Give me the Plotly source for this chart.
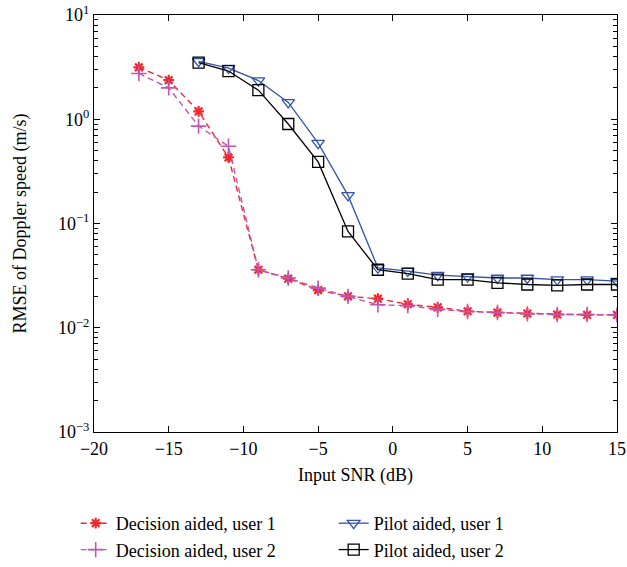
import plotly.graph_objects as go

# Input SNR (dB)
snr_decision = [-17, -15, -13, -11, -9, -7, -5, -3, -1, 1, 3, 5, 7, 9, 11, 13, 15]
snr_pilot = [-13, -11, -9, -7, -5, -3, -1, 1, 3, 5, 7, 9, 11, 13, 15]

# RMSE of Doppler speed (m/s)
decision_user1 = [3.15, 2.37, 1.19, 0.43, 0.036, 0.0296, 0.023, 0.020, 0.019,
                  0.0168, 0.0157, 0.0144, 0.014, 0.0137, 0.0134, 0.0133, 0.0133]
decision_user2 = [2.75, 2.0, 0.86, 0.55, 0.036, 0.030, 0.024, 0.020, 0.0166,
                  0.0163, 0.015, 0.0143, 0.014, 0.0136, 0.0134, 0.0134, 0.0133]
pilot_user1 = [3.6, 3.1, 2.35, 1.45, 0.59, 0.186, 0.0376, 0.035, 0.032, 0.031,
               0.030, 0.030, 0.029, 0.029, 0.028]
pilot_user2 = [3.5, 2.9, 1.9, 0.9, 0.39, 0.084, 0.036, 0.033, 0.029, 0.029,
               0.027, 0.026, 0.0255, 0.026, 0.026]

x_ticks = [-20, -15, -10, -5, 0, 5, 10, 15]
x_tick_text = ["\u221220", "\u221215", "\u221210", "\u22125", "0", "5", "10", "15"]
y_ticks = [10, 1, 0.1, 0.01, 0.001]
y_tick_text = ["10<sup>1</sup>", "10<sup>0</sup>", "10<sup>\u22121</sup>",
               "10<sup>\u22122</sup>", "10<sup>\u22123</sup>"]

RED = "#ee2a2f"
MAGENTA = "#c055b5"
BLUE = "#3553a8"
BLACK = "#000000"
FONT = "Liberation Serif"
FS = 18

fig = go.Figure()

fig.add_trace(go.Scatter(
    x=snr_decision, y=decision_user1, name="Decision aided, user 1",
    mode="lines+markers",
    line=dict(color=RED, width=1.4, dash="6px,4px"),
    marker=dict(symbol="asterisk-open", size=9, line=dict(color=RED, width=2.2)),
))
fig.add_trace(go.Scatter(
    x=snr_pilot, y=pilot_user1, name="Pilot aided, user 1",
    mode="lines+markers",
    line=dict(color=BLUE, width=1.3),
    marker=dict(symbol="triangle-down-open", size=11, color=BLUE,
                line=dict(color=BLUE, width=1.3)),
))
fig.add_trace(go.Scatter(
    x=snr_decision, y=decision_user2, name="Decision aided, user 2",
    mode="lines+markers",
    line=dict(color=MAGENTA, width=1.4, dash="6px,4px"),
    marker=dict(symbol="cross-thin-open", size=11, line=dict(color=MAGENTA, width=1.6)),
))
fig.add_trace(go.Scatter(
    x=snr_pilot, y=pilot_user2, name="Pilot aided, user 2",
    mode="lines+markers",
    line=dict(color=BLACK, width=1.3),
    marker=dict(symbol="square-open", size=11, color=BLACK,
                line=dict(color=BLACK, width=1.3)),
))

axis_common = dict(
    showline=True, linecolor="black", linewidth=1.2, mirror="allticks",
    ticks="inside", ticklen=6, tickcolor="black", tickwidth=1,
    showgrid=False, zeroline=False,
    tickfont=dict(family=FONT, size=FS, color="black"),
)

fig.update_xaxes(
    range=[-20, 15], tickvals=x_ticks, ticktext=x_tick_text,
    title=dict(text="Input SNR (dB)", font=dict(family=FONT, size=FS, color="black"),
               standoff=10),
    **axis_common,
)
fig.update_yaxes(
    type="log", range=[-3, 1], tickvals=y_ticks, ticktext=y_tick_text,
    minor=dict(ticks="inside", ticklen=4, tickcolor="black", tickwidth=1,
               tickvals=[m * 10 ** e for e in range(-3, 1) for m in range(2, 10)]),
    title=dict(text="RMSE of Doppler speed (m/s)",
               font=dict(family=FONT, size=FS, color="black"), standoff=26),
    **axis_common,
)

fig.update_layout(
    width=627, height=567,
    margin=dict(l=94, r=10, t=15, b=135, autoexpand=False),
    paper_bgcolor="white", plot_bgcolor="white",
    font=dict(family=FONT, size=FS, color="black"),
    legend=dict(
        orientation="h", x=-0.035, y=-0.175, xanchor="left", yanchor="top",
        entrywidth=213, entrywidthmode="pixels",
        font=dict(family=FONT, size=FS, color="black"),
        bgcolor="rgba(0,0,0,0)", itemwidth=30, tracegroupgap=0,
    ),
)

fig.write_html("out.html")
